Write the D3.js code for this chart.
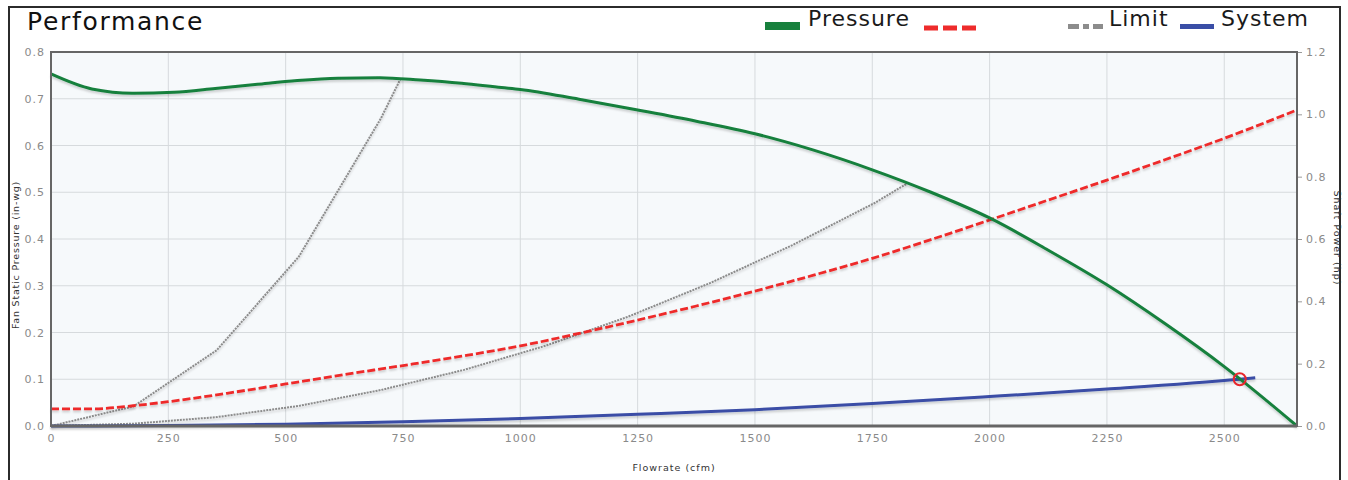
<!DOCTYPE html>
<html><head><meta charset="utf-8">
<script src="https://cdn.jsdelivr.net/npm/d3@7"></script>
<style>
html,body{margin:0;padding:0;background:#fff;}
svg{display:block;}
text{font-family:"DejaVu Sans",sans-serif;}
</style></head>
<body><svg id="c" width="1348" height="480"></svg>
<script>
// ---- data ----
const title = "Performance";
const xTicks = [0,250,500,750,1000,1250,1500,1750,2000,2250,2500];
const yLeftTicks = [0,0.1,0.2,0.3,0.4,0.5,0.6,0.7,0.8];
const yRightTicks = [0,0.2,0.4,0.6,0.8,1.0,1.2];
const xMax = 2655;

// Pressure curve (cfm, in-wg)
const pressureQ = [0,87,175,262,350,440,525,612,700,787,875,960,1000,1125,1250,1375,1500,1625,1750,1875,2000,2125,2250,2375,2500,2655];
const pressureP = [0.753,0.721,0.712,0.714,0.722,0.731,0.739,0.744,0.745,0.740,0.733,0.724,0.720,0.699,0.676,0.652,0.625,0.590,0.548,0.500,0.445,0.376,0.302,0.218,0.127,0.000];

// Shaft power curve (cfm, hp)
const powerQ = [0,88,175,250,375,500,625,750,875,1000,1125,1250,1375,1500,1625,1750,1875,2000,2125,2250,2375,2500,2655];
const powerHp = [0.055,0.055,0.065,0.078,0.105,0.135,0.165,0.194,0.224,0.257,0.297,0.340,0.385,0.433,0.484,0.538,0.598,0.661,0.725,0.789,0.855,0.923,1.014];

// Limit curves (cfm, in-wg)
const limit1Q = [0,176,353,528,703,745];
const limit1P = [0,0.042,0.162,0.362,0.658,0.743];
const limit2Q = [0,176,353,528,703,880,1055,1230,1405,1580,1755,1823];
const limit2P = [0,0.005,0.019,0.043,0.077,0.120,0.172,0.234,0.306,0.387,0.477,0.518];

// System curve (cfm, in-wg)
const systemQ = [0,250,500,750,1000,1250,1500,1750,2000,2250,2533,2566];
const systemP = [0,0.001,0.004,0.009,0.016,0.025,0.035,0.048,0.063,0.079,0.100,0.103];

// Operating point
const opQ = 2533, opP = 0.100;

// Legend
const legendLabels = ["Pressure","","Limit","System"];
const colors = {pressure:"#17803d", power:"#ee2b2b", limit:"#8c8c8c", system:"#3a4ea6"};

// ---- drawing ----
const svg = d3.select("#c");
const L=51,R=1297,T=52,B=426;
const x = d3.scaleLinear().domain([0,xMax]).range([L,R]);
const yL = d3.scaleLinear().domain([0,0.8]).range([B,T]);
const yR = d3.scaleLinear().domain([0,1.2]).range([B,T]);

const defs = svg.append("defs");
const f = defs.append("filter").attr("id","sh").attr("x","-5%").attr("y","-5%").attr("width","110%").attr("height","120%");
f.append("feDropShadow").attr("dx",0).attr("dy",2).attr("stdDeviation",1).attr("flood-color","#000").attr("flood-opacity",0.18);

// outer frame
svg.append("rect").attr("x",9).attr("y",7).attr("width",1331).attr("height",490)
  .attr("fill","#fff").attr("stroke","#2b2b2b").attr("stroke-width",2);

svg.append("text").attr("x",27).attr("y",30).attr("font-size",25).attr("letter-spacing",1.7)
  .attr("fill","#111").text(title);

// plot background
svg.append("rect").attr("x",L).attr("y",T).attr("width",R-L).attr("height",B-T).attr("fill","#f6f9fb");

// grid
svg.append("g").selectAll("line").data(xTicks.slice(1)).join("line")
  .attr("x1",d=>x(d)).attr("x2",d=>x(d)).attr("y1",T).attr("y2",B)
  .attr("stroke","#d6dadd").attr("stroke-width",1);
svg.append("g").selectAll("line").data(yLeftTicks.slice(1,-1)).join("line")
  .attr("x1",L).attr("x2",R).attr("y1",d=>yL(d)).attr("y2",d=>yL(d))
  .attr("stroke","#d6dadd").attr("stroke-width",1);

// axes
const fmt = d3.format(".1f");
const axL = svg.append("g").attr("transform",`translate(${L},0)`)
  .call(d3.axisLeft(yL).tickValues(yLeftTicks).tickFormat(fmt).tickSize(0).tickPadding(6));
const axR = svg.append("g").attr("transform",`translate(${R},0)`)
  .call(d3.axisRight(yR).tickValues(yRightTicks).tickFormat(fmt).tickSize(5).tickPadding(4));
const axB = svg.append("g").attr("transform",`translate(0,${B})`)
  .call(d3.axisBottom(x).tickValues(xTicks).tickFormat(d3.format("d")).tickSize(0).tickPadding(8));
[axL,axR,axB].forEach(a=>{
  a.select(".domain").remove();
  a.selectAll("text").attr("fill","#8a8a8a").attr("font-size",11).attr("letter-spacing",1)
    .attr("font-family","DejaVu Sans, sans-serif");
  a.selectAll(".tick line").attr("stroke","#9a9a9a");
});

// curves
const line = (ys)=>d3.line().x(d=>x(d[0])).y(d=>ys(d[1])).curve(d3.curveMonotoneX);
const lineLin = (ys)=>d3.line().x(d=>x(d[0])).y(d=>ys(d[1]));
const zip=(a,b)=>a.map((v,i)=>[v,b[i]]);

const gC = svg.append("g");
gC.append("path").datum(zip(limit2Q,limit2P)).attr("d",lineLin(yL))
  .attr("fill","none").attr("stroke",colors.limit).attr("stroke-width",2).attr("stroke-dasharray","2,1").attr("filter","url(#sh)");
gC.append("path").datum(zip(limit1Q,limit1P)).attr("d",lineLin(yL))
  .attr("fill","none").attr("stroke",colors.limit).attr("stroke-width",2).attr("stroke-dasharray","2,1").attr("filter","url(#sh)");
gC.append("path").datum(zip(systemQ,systemP)).attr("d",line(yL))
  .attr("fill","none").attr("stroke",colors.system).attr("stroke-width",3).attr("filter","url(#sh)");
gC.append("path").datum(zip(powerQ,powerHp)).attr("d",line(yR))
  .attr("fill","none").attr("stroke",colors.power).attr("stroke-width",2.8).attr("stroke-dasharray","8,3").attr("filter","url(#sh)");
gC.append("path").datum(zip(pressureQ,pressureP)).attr("d",line(yL))
  .attr("fill","none").attr("stroke",colors.pressure).attr("stroke-width",3).attr("stroke-linejoin","round").attr("filter","url(#sh)");

svg.append("circle").attr("cx",x(opQ)).attr("cy",yL(opP)).attr("r",6)
  .attr("fill","none").attr("stroke","#e8262b").attr("stroke-width",2);

// plot border
svg.append("rect").attr("x",L).attr("y",T).attr("width",R-L).attr("height",B-T)
  .attr("fill","none").attr("stroke","#666").attr("stroke-width",2);
svg.append("line").attr("x1",L).attr("x2",R).attr("y1",B).attr("y2",B).attr("stroke","#666").attr("stroke-width",3);

// axis titles
svg.append("text").attr("x",674).attr("y",471).attr("text-anchor","middle").attr("font-size",9.5)
  .attr("letter-spacing",1).attr("fill","#333").text("Flowrate (cfm)");
svg.append("text").attr("transform","translate(19,255) rotate(-90)").attr("text-anchor","middle").attr("font-size",9.5)
  .attr("letter-spacing",0.8).attr("fill","#333").text("Fan Static Pressure (in-wg)");
svg.append("text").attr("transform","translate(1334,238) rotate(90)").attr("text-anchor","middle").attr("font-size",9.5)
  .attr("letter-spacing",1).attr("fill","#333").text("Shaft Power (hp)");

// legend
const lg = svg.append("g");
lg.append("line").attr("x1",765).attr("x2",800).attr("y1",26).attr("y2",26).attr("stroke",colors.pressure).attr("stroke-width",8);
lg.append("line").attr("x1",924).attr("x2",977).attr("y1",28).attr("y2",28).attr("stroke",colors.power).attr("stroke-width",5).attr("stroke-dasharray","14,5");
lg.append("line").attr("x1",1068).attr("x2",1103).attr("y1",26.5).attr("y2",26.5).attr("stroke",colors.limit).attr("stroke-width",5).attr("stroke-dasharray","11,4,6,4,10");
lg.append("line").attr("x1",1180).attr("x2",1214).attr("y1",26.5).attr("y2",26.5).attr("stroke",colors.system).attr("stroke-width",5);
const legX=[808,980,1109,1221];
lg.selectAll("text.l").data(legendLabels).join("text").attr("class","l")
  .attr("x",(d,i)=>legX[i]).attr("y",26).attr("font-size",22).attr("letter-spacing",1).attr("fill","#1a1a1a").text(d=>d);
</script></body></html>
